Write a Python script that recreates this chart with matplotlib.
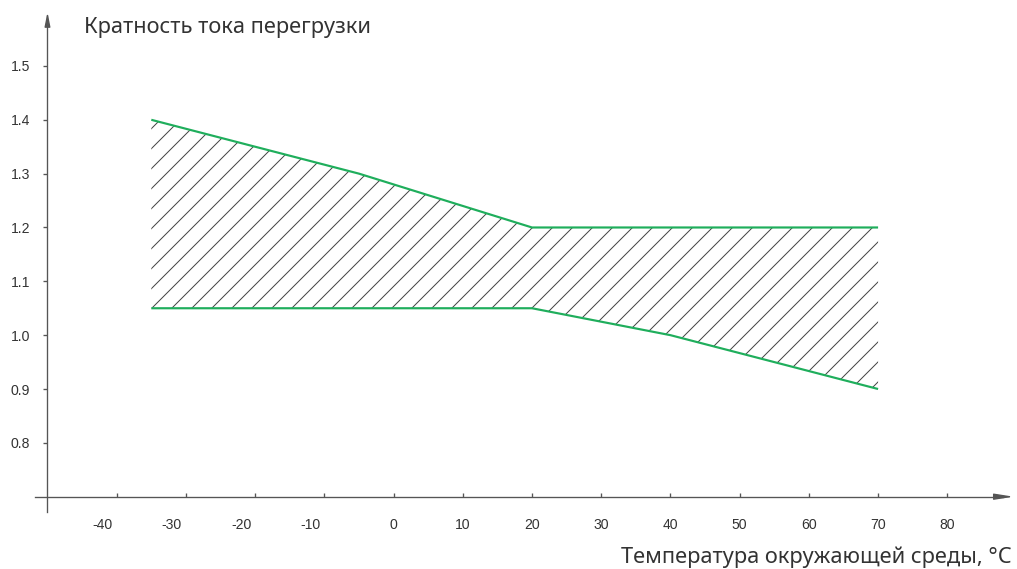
import numpy as np
import matplotlib
matplotlib.use("Agg")
import matplotlib.pyplot as plt

# ---- data ----
x_ticks = [-40, -30, -20, -10, 0, 10, 20, 30, 40, 50, 60, 70, 80]
x_tick_labels = ["-40", "-30", "-20", "-10", "0", "10", "20", "30", "40", "50", "60", "70", "80"]
y_ticks = [0.8, 0.9, 1.0, 1.1, 1.2, 1.3, 1.4, 1.5]
y_tick_labels = ["0.8", "0.9", "1.0", "1.1", "1.2", "1.3", "1.4", "1.5"]

upper_x = [-35, -5, 20, 70]
upper_y = [1.40, 1.30, 1.20, 1.20]
lower_x = [-35, 20, 40, 70]
lower_y = [1.05, 1.05, 1.00, 0.90]

y_title = "Кратность тока перегрузки"
x_title = "Температура окружающей среды, °C"

# ---- style ----
DPI = 120
W, H = 1017, 569
GREEN = "#1fae5c"
AXC = "#555555"
TXT = "#333333"
plt.rcParams["hatch.linewidth"] = 0.6
plt.rcParams["hatch.color"] = "#444444"

fig = plt.figure(figsize=(W / DPI, H / DPI), dpi=DPI)
ax = fig.add_axes([0, 0, 1, 1])
ax.set_xlim(-56.86, 90.07)
ax.set_ylim(0.5657, 1.6225)
ax.patch.set_alpha(0)

x_axis_y = 0.7
y_axis_x = -50

# hatched band
poly_x = np.concatenate([upper_x, lower_x[::-1]])
poly_y = np.concatenate([upper_y, lower_y[::-1]])
ax.fill(poly_x, poly_y, facecolor="none", edgecolor="#444444", hatch="//", linewidth=0, zorder=2)
ax.plot(upper_x, upper_y, color=GREEN, lw=1.3, zorder=3, solid_capstyle="butt")
ax.plot(lower_x, lower_y, color=GREEN, lw=1.3, zorder=3, solid_capstyle="butt")

# spines as axes
for s in ["top", "right"]:
    ax.spines[s].set_visible(False)
ax.spines["left"].set_position(("data", y_axis_x))
ax.spines["bottom"].set_position(("data", x_axis_y))
ax.spines["left"].set_bounds(0.672, 1.585)
ax.spines["bottom"].set_bounds(-51.8, 88.0)
for s in ["left", "bottom"]:
    ax.spines[s].set_color(AXC)
    ax.spines[s].set_linewidth(0.8)

# arrowheads
ax.annotate("", xy=(89.6, x_axis_y), xytext=(87.5, x_axis_y),
            arrowprops=dict(arrowstyle="-|>,head_length=0.95,head_width=0.15",
                            color=AXC, lw=0.8, shrinkA=0, shrinkB=0))
ax.annotate("", xy=(y_axis_x, 1.600), xytext=(y_axis_x, 1.58),
            arrowprops=dict(arrowstyle="-|>,head_length=0.7,head_width=0.14",
                            color=AXC, lw=0.8, shrinkA=0, shrinkB=0))

# ticks
ax.set_xticks(x_ticks)
ax.set_xticklabels([])
ax.tick_params(axis="x", direction="in", length=2.6, width=0.8, color=AXC)
ax.set_yticks(y_ticks)
ax.set_yticklabels(y_tick_labels)
ax.tick_params(axis="y", direction="out", length=2.6, width=0.8, color=AXC,
               pad=7.8, labelsize=8.4, labelcolor=TXT)
for lab in ax.get_yticklabels():
    lab.set_fontfamily(["Liberation Sans", "DejaVu Sans"])

# x tick labels (negative labels drawn slightly left of their ticks, as in the reference)
for v, t in zip(x_ticks, x_tick_labels):
    dx = -14 if v < 0 else 0
    ax.annotate(t, xy=(v, x_axis_y), xytext=(dx, -21), textcoords="offset pixels",
                ha="center", va="top", fontsize=8.4, color=TXT,
                family=["Liberation Sans", "DejaVu Sans"])

# axis titles
fig.text(84 / W, 1 - 28 / H, y_title, ha="left", va="center", fontsize=13.1,
         color=TXT, family=["Noto Sans", "DejaVu Sans"])
fig.text(1012 / W, 1 - 557 / H, x_title, ha="right", va="center", fontsize=13.1,
         color=TXT, family=["Noto Sans", "DejaVu Sans"])

fig.savefig("out.png", dpi=DPI)
